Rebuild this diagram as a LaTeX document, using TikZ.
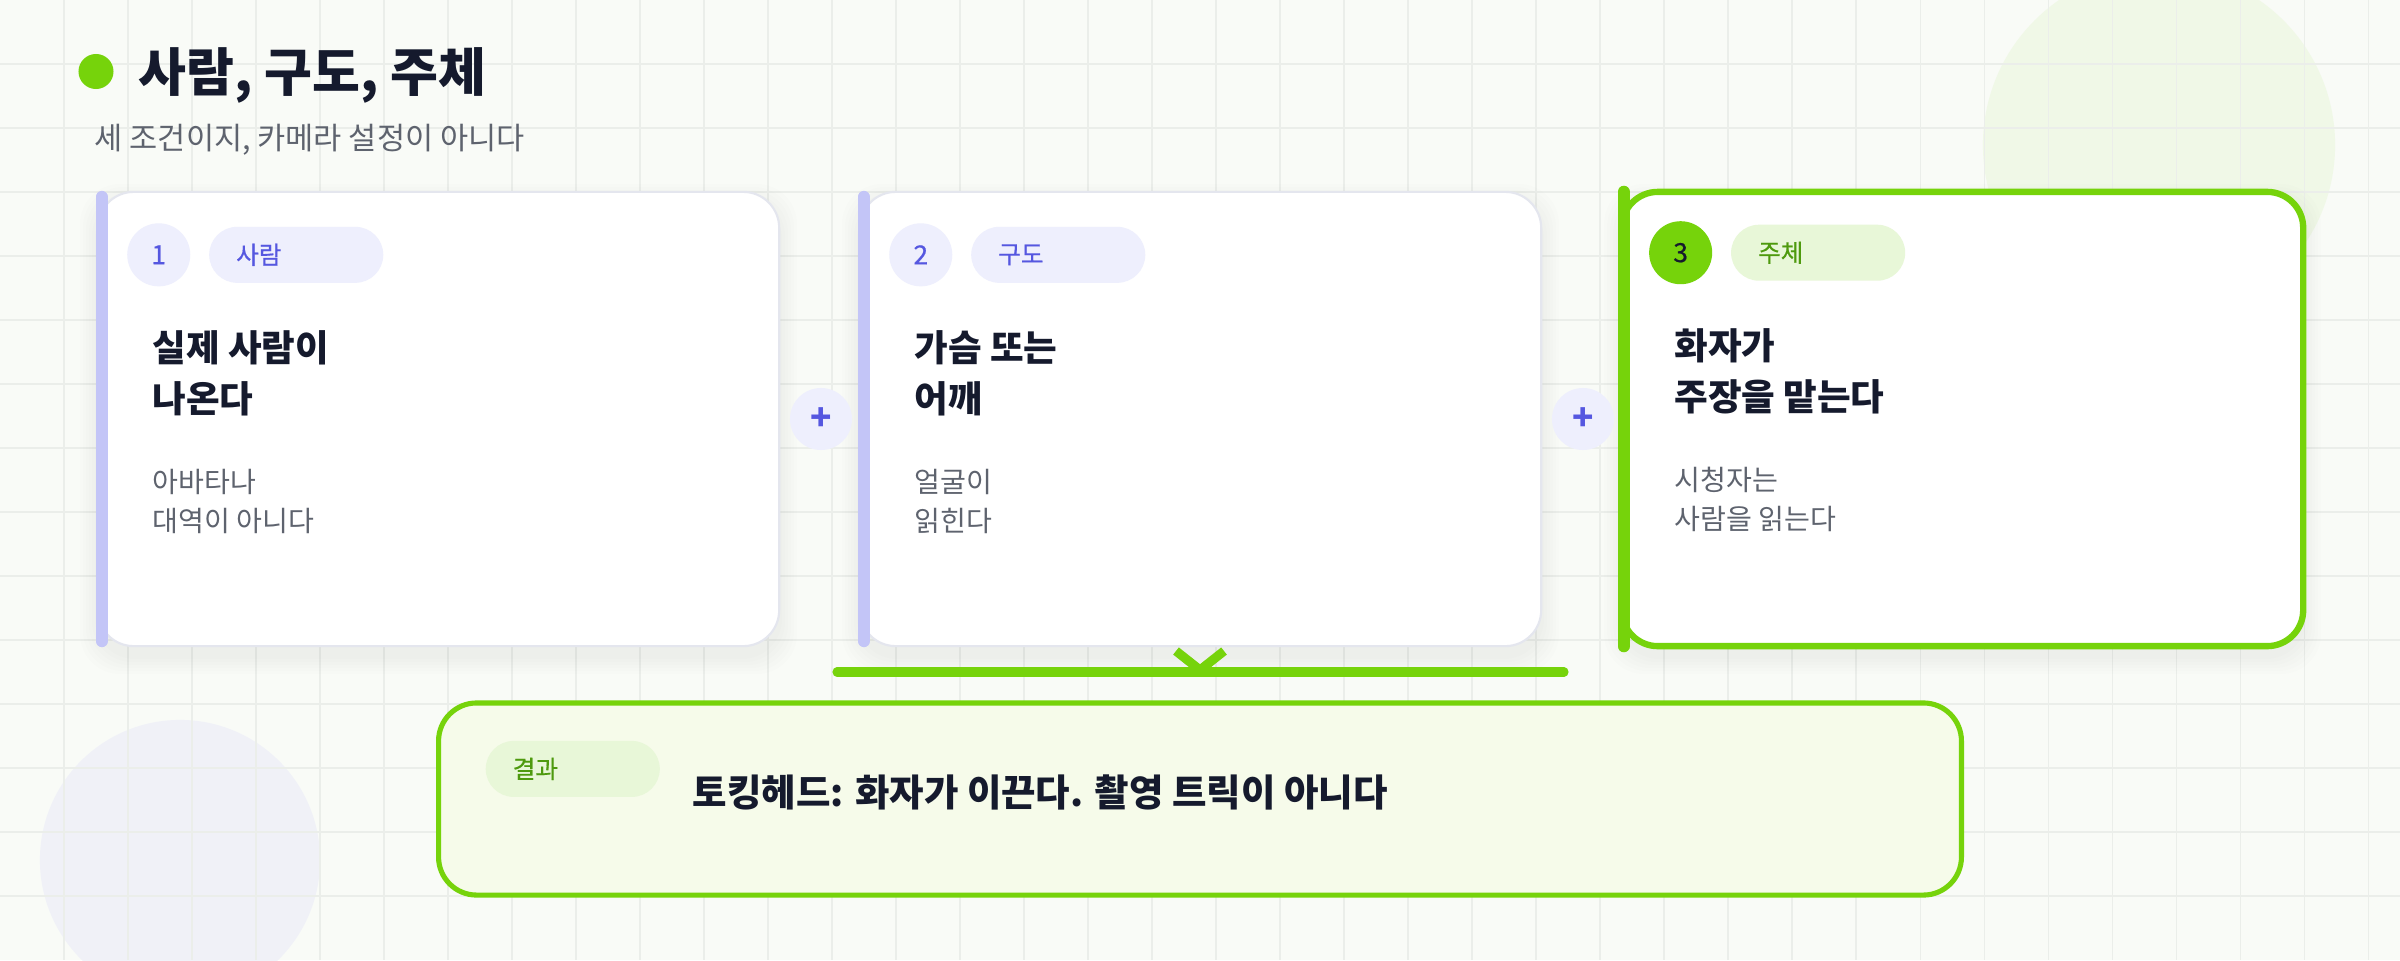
\documentclass[tikz,border=0pt]{standalone}
\usepackage{fontspec}
\setmainfont{Noto Sans CJK KR}
\newfontfamily\tagfont[FakeBold=0.6]{Noto Sans CJK KR}
\usetikzlibrary{positioning}
\definecolor{bgc}{HTML}{F9FBF7}
\definecolor{gridc}{HTML}{EBEEEA}
\definecolor{inkc}{HTML}{151A2D}
\definecolor{grayc}{HTML}{5E636E}
\definecolor{indigo}{HTML}{5557E0}
\definecolor{lavfill}{HTML}{EEEFFD}
\definecolor{lavbar}{HTML}{C3C5F7}
\definecolor{cardline}{HTML}{E4E6EE}
\definecolor{greenc}{HTML}{76D30B}
\definecolor{greentxt}{HTML}{4E9A0E}
\definecolor{greenpill}{HTML}{E8F7D8}
\definecolor{resfill}{HTML}{F6FBEA}
\definecolor{circgreen}{HTML}{EEF8E3}
\definecolor{circlav}{HTML}{EEEFF7}
\begin{document}
\begin{tikzpicture}[x=0.01cm, y=-0.01cm,
    gridline/.style={draw=gridc, line width=0.3pt},
    card/.style={draw=cardline, line width=0.6pt, fill=white, rounded corners=0.36cm,
      minimum width=6.81cm, minimum height=4.54cm, inner sep=0},
    accent/.style={draw=lavbar, line width=3.4pt, line cap=round},
    numdot/.style={circle, fill=lavfill, minimum size=0.63cm, inner sep=0, text=indigo,
      font=\tagfont\fontsize{7.5}{9}\selectfont},
    tagpill/.style={fill=lavfill, rounded corners=0.28cm, minimum height=0.56cm, text width=1.2cm,
      inner xsep=0.27cm, inner ysep=0, align=left, text=indigo, font=\tagfont\fontsize{7}{8}\selectfont},
    head/.style={anchor=north west, inner sep=0, align=left, text=inkc,
      font=\bfseries\fontsize{10.4}{14.6}\selectfont},
    note/.style={anchor=north west, inner sep=0, align=left, text=grayc,
      font=\fontsize{8}{11.1}\selectfont},
    plusdot/.style={circle, fill=lavfill, minimum size=0.62cm, inner sep=0, text=indigo,
      font=\bfseries\fontsize{10}{10}\selectfont},
    joinbar/.style={draw=greenc, line width=2.6pt, line cap=round},
    chev/.style={draw=greenc, line width=2.6pt, line join=miter}]
  \useasboundingbox (0,0) rectangle (2400,960);
  \fill[bgc] (0,0) rectangle (2400,960);
  \fill[circgreen, opacity=0.8] (2159,145) circle[radius=1.76cm];
  \fill[circlav, opacity=0.8] (180,860) circle[radius=1.4cm];
  \foreach \gx in {64,128,...,2368} \draw[gridline] (\gx,0) -- (\gx,960);
  \foreach \gy in {64,128,...,896} \draw[gridline] (0,\gy) -- (2400,\gy);

  \node[circle, fill=greenc, minimum size=0.35cm, inner sep=0] (dot) at (96,71.5) {};
  \node[anchor=base west, inner sep=0, text=inkc, font=\bfseries\fontsize{14.8}{17}\selectfont] (title) at (138,91) {사람, 구도, 주체};
  \node[anchor=base west, inner sep=0, text=grayc, font=\fontsize{8.7}{10}\selectfont] (sub) at (94,149) {세 조건이지, 카메라 설정이 아니다};

  \foreach \cx in {438.5,1200.5,1962.5}
    \foreach \s in {3,6,...,18}
      \fill[black, opacity=0.007, rounded corners=0.4cm] (\cx-340.5-\s,192-\s+10) rectangle (\cx+340.5+\s,646+\s+10);

  \node[card] (c1) at (438.5,419) {};
  \draw[accent] ([shift={(5,6)}]c1.north west) -- ([shift={(5,-6)}]c1.south west);
  \node[numdot] (n1) at ([shift={(62,64)}]c1.north west) {1};
  \node[tagpill, right=0.175cm of n1] (t1) {사람};
  \node[head] (h1) at ([shift={(55,139)}]c1.north west) {실제 사람이\\나온다};
  \node[note] (b1) at ([shift={(55,278)}]c1.north west) {아바타나\\대역이 아니다};

  \node[card] (c2) at (1200.5,419) {};
  \draw[accent] ([shift={(5,6)}]c2.north west) -- ([shift={(5,-6)}]c2.south west);
  \node[numdot] (n2) at ([shift={(62,64)}]c2.north west) {2};
  \node[tagpill, right=0.175cm of n2] (t2) {구도};
  \node[head] (h2) at ([shift={(55,139)}]c2.north west) {가슴 또는\\어깨};
  \node[note] (b2) at ([shift={(55,278)}]c2.north west) {얼굴이\\읽힌다};

  \node[card, draw=greenc, line width=1.8pt] (c3) at (1962.5,419) {};
  \draw[accent, draw=greenc] ([shift={(5,3)}]c3.north west) -- ([shift={(5,-3)}]c3.south west);
  \node[numdot, fill=greenc, text=inkc] (n3) at ([shift={(62,64)}]c3.north west) {3};
  \node[tagpill, fill=greenpill, text=greentxt, right=0.175cm of n3] (t3) {주체};
  \node[head] (h3) at ([shift={(55,139)}]c3.north west) {화자가\\주장을 맡는다};
  \node[note] (b3) at ([shift={(55,278)}]c3.north west) {시청자는\\사람을 읽는다};

  \node[plusdot, right=0.09cm of c1] (p1) {+};
  \node[plusdot, right=0.09cm of c2] (p2) {+};

  \coordinate (jl) at (837,672);
  \coordinate (jr) at (1564,672);
  \coordinate (jm) at (1200,670);
  \draw[joinbar] (jl) -- (jr);
  \draw[chev] ([shift={(-24,-19)}]jm) -- (jm) -- ([shift={(24,-19)}]jm);

  \node[draw=greenc, line width=1.45pt, fill=resfill, rounded corners=0.38cm,
    minimum width=15.22cm, minimum height=1.92cm, inner sep=0] (res) at (1200,799) {};
  \node[tagpill, fill=greenpill, text=greentxt, anchor=west] (rtag) at ([shift={(49,68.5)}]res.north west) {결과};
  \node[anchor=base west, inner sep=0, text=inkc, font=\bfseries\fontsize{10.65}{12}\selectfont] (rtext)
    at ([shift={(256,106)}]res.north west) {토킹헤드: 화자가 이끈다. 촬영 트릭이 아니다};
\end{tikzpicture}
\end{document}
